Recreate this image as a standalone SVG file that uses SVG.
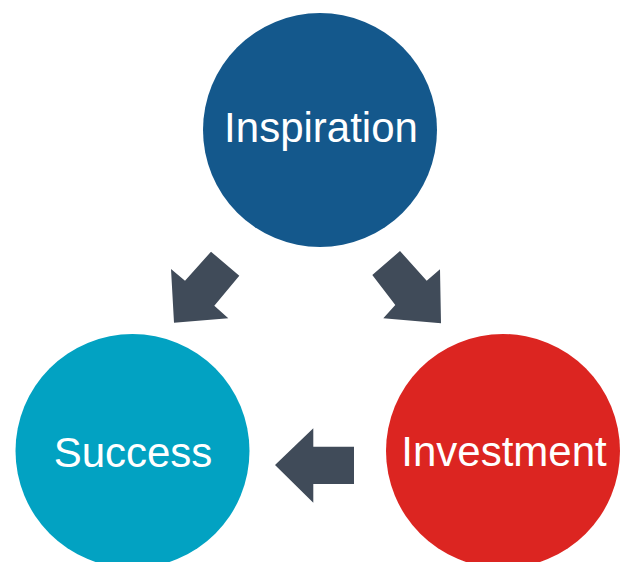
<svg xmlns="http://www.w3.org/2000/svg" width="622" height="562" viewBox="0 0 622 562">
<style>
.lbl{font-family:"Liberation Sans",Arial,sans-serif;font-size:42px;fill:#ffffff;text-anchor:middle}
.arr{fill:#404B59}
</style>
<rect width="622" height="562" fill="#ffffff"/>
<g id="inspiration">
<circle cx="320" cy="130" r="117" fill="#14588C"/>
<text class="lbl" x="321" y="141.5">Inspiration</text>
</g>
<g id="success">
<circle cx="132.5" cy="451" r="117" fill="#02A2C2"/>
<text class="lbl" x="133" y="466.5">Success</text>
</g>
<g id="investment">
<circle cx="503" cy="451" r="117" fill="#DC2521"/>
<text class="lbl" x="504" y="465.5">Investment</text>
</g>
<g id="connectors">
<polygon class="arr" points="174,322.7 171,269 185,280.7 211,251.7 239.3,275.7 214.3,305.7 228.3,318.3"/>
<polygon class="arr" points="441,323.3 440,269.3 426.7,280.7 400,251 372.3,275 395.3,305 383.3,318.3"/>
<polygon class="arr" points="275,465 313.3,428.3 313.3,446.7 354,446.7 354,484 313.3,484 313.3,502.7"/>
</g>
</svg>
